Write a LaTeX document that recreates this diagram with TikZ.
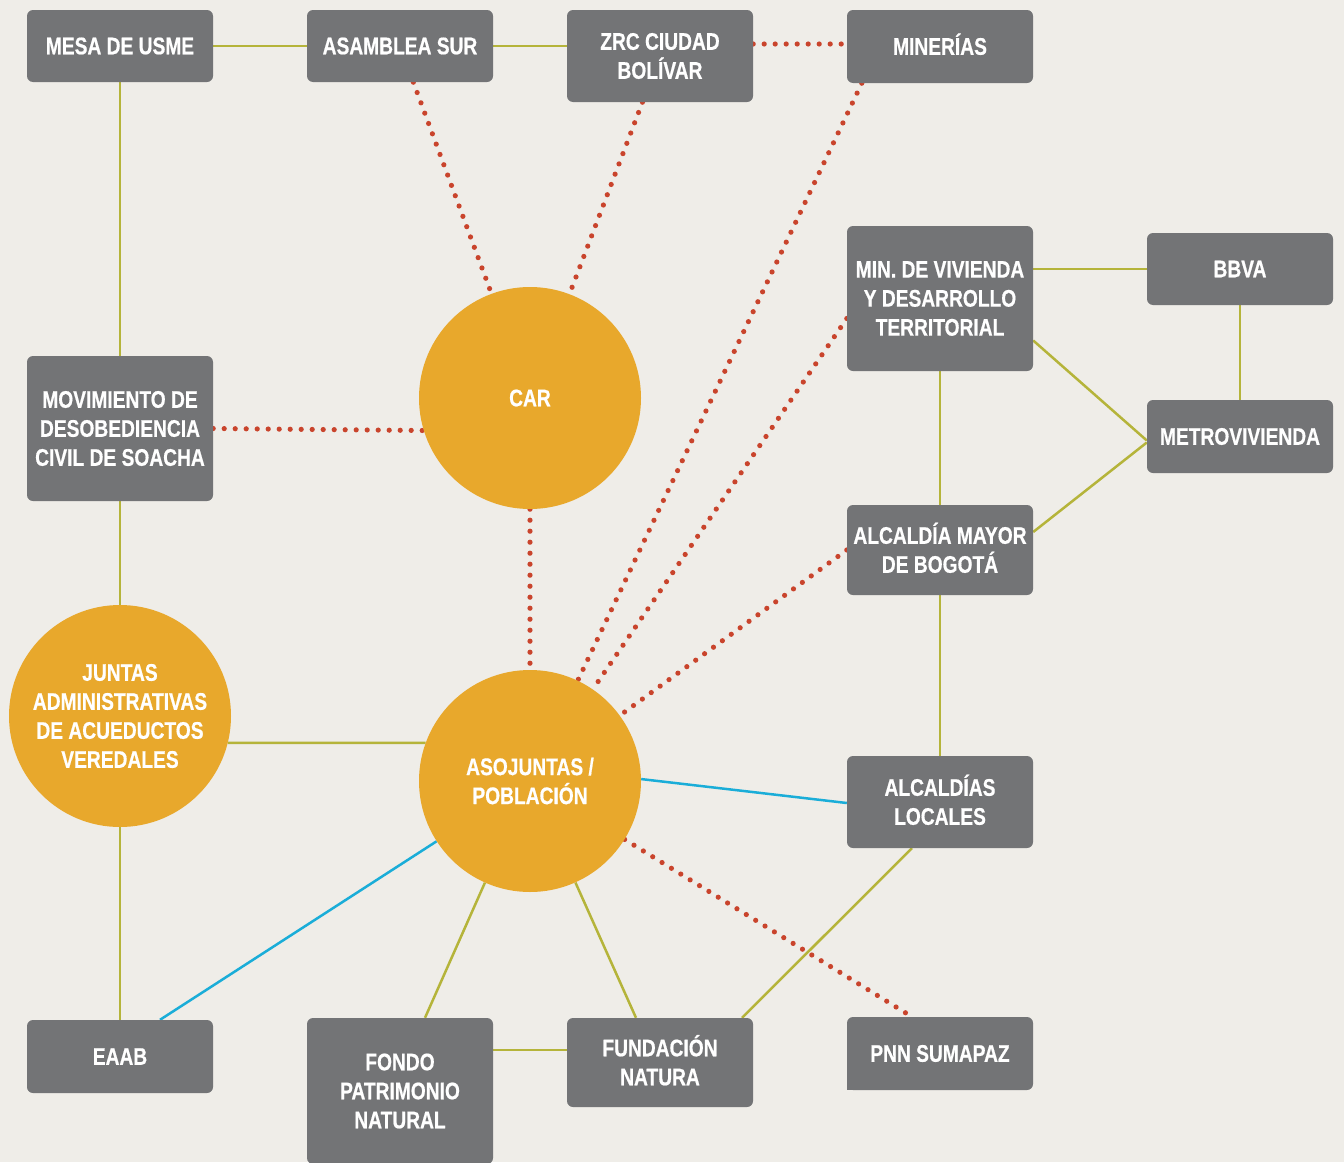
\documentclass[tikz,border=0pt]{standalone}
\usepackage{fontspec}
\setmainfont{Liberation Sans}[FakeStretch=0.8,BoldFeatures={FakeBold=0.6}]
\usetikzlibrary{calc}
\definecolor{bg}{HTML}{EFEDE8}
\definecolor{boxgray}{HTML}{737476}
\definecolor{orng}{HTML}{E8A82C}
\definecolor{olivel}{HTML}{B5B43A}
\definecolor{cyanl}{HTML}{1AADD8}
\definecolor{dotred}{HTML}{C9442C}
\pgfdeclarelayer{bgl}
\pgfdeclarelayer{lines}
\pgfsetlayers{bgl,lines,main}
\newcommand{\acc}[1]{\smash{#1}}
\begin{document}
\begin{tikzpicture}[x=1pt,y=-1pt,
 lbl/.style={text=white, align=center, font=\fontsize{24}{29}\selectfont\bfseries},
 box/.style={lbl, fill=boxgray, rounded corners=6pt, minimum width=186pt, inner sep=0pt},
 circ/.style={lbl, circle, fill=orng, minimum size=222pt, inner sep=0pt},
 oline/.style={draw=olivel, line width=2.5pt},
 bline/.style={draw=cyanl, line width=2.5pt},
 dline/.style={draw=dotred, line width=5.2pt, line cap=round, dash pattern=on 0pt off 11pt}]
\begin{pgfonlayer}{bgl}
\fill[bg] (0,0) rectangle (1344,1162);
\end{pgfonlayer}
\useasboundingbox (0,0) rectangle (1344,1162);

% boxes
\node[box, minimum height=72pt] (mesa) at (120,46) {MESA DE USME};
\node[box, minimum height=72pt] (asam) at (400,46) {ASAMBLEA SUR};
\node[box, minimum height=92pt] (zrc) at (660,56) {ZRC CIUDAD\\BOL\acc{Í}VAR};
\node[box, minimum height=73pt] (mine) at (940,46.5) {MINER\acc{Í}AS};
\node[box, minimum height=145pt] (minv) at (940,298.5) {MIN. DE VIVIENDA\\Y DESARROLLO\\TERRITORIAL};
\node[box, minimum height=72pt] (bbva) at (1240,269) {BBVA};
\node[box, minimum height=73pt] (metro) at (1240,436.5) {METROVIVIENDA};
\node[box, minimum height=145pt] (mov) at (120,428.5) {MOVIMIENTO DE\\DESOBEDIENCIA\\CIVIL DE SOACHA};
\node[box, minimum height=90pt] (amb) at (940,550) {ALCALD\acc{Í}A MAYOR\\DE BOGOT\acc{Á}};
\node[box, minimum height=92pt] (al) at (940,802) {ALCALD\acc{Í}AS\\LOCALES};
\node[box, minimum height=73pt] (eaab) at (120,1056.5) {EAAB};
\node[box, minimum height=146pt] (fondo) at (400,1091) {FONDO\\PATRIMONIO\\NATURAL};
\node[box, minimum height=89pt] (fund) at (660,1062.5) {FUNDACI\acc{Ó}N\\NATURA};
\node[box, minimum height=73pt] (pnn) at (940,1053.5) {PNN SUMAPAZ};
\fill[boxgray] (pnn.south west) rectangle ++(8,-8);

% circles
\node[circ] (car) at (530,398) {CAR};
\node[circ] (junt) at (120,716) {JUNTAS\\ADMINISTRATIVAS\\DE ACUEDUCTOS\\VEREDALES};
\node[circ] (aso) at (530,781) {ASOJUNTAS /\\POBLACI\acc{Ó}N};

\begin{pgfonlayer}{lines}
% olive links
\draw[oline] (mesa) -- (asam);
\draw[oline] (asam.east) -- ($(zrc.west)+(0,-10)$);
\draw[oline] (mesa) -- (mov);
\draw[oline] (mov) -- (junt);
\draw[oline] (junt) -- (eaab);
\draw[oline] (junt.-14.6) -- (aso.160.5);
\draw[oline] (minv.east |- bbva.west) -- (bbva.west);
\draw[oline] (bbva) -- (metro);
\draw[oline] ($(minv.east)+(0,42)$) -- ($(metro.west)+(0,4)$);
\draw[oline] ($(amb.east)+(0,-18)$) -- ($(metro.west)+(0,6)$);
\draw[oline] (minv) -- (amb);
\draw[oline] (amb) -- (al);
\draw[oline] ($(al.south)+(-28,0)$) -- ($(fund.north)+(82,0)$);
\draw[oline] ($(fondo.north)+(25,0)$) -- (aso);
\draw[oline] ($(fund.north)+(-24,0)$) -- (aso);
\draw[oline] (fondo.east |- 0,1050) -- (fund.west |- 0,1050);
% blue links
\draw[bline] (aso.1) -- ($(al.west)+(0,1)$);
\draw[bline] ($(eaab.north)+(40,0)$) -- (aso);
% dotted red links
\draw[dline] ($(zrc.east)+(0,-12)$) -- ($(mine.west)+(0,-2.5)$);
\draw[dline] (asam) -- (car);
\draw[dline] (zrc) -- (car);
\draw[dline] (mov.east) -- (car.197);
\draw[dline] (car) -- (aso);
\draw[dline] ($(mine.south west)+(15,0)$) -- (aso);
\draw[dline] ($(minv.west)+(0,20)$) -- (aso);
\draw[dline] (amb.west) -- (aso);
\draw[dline] (aso) -- ($(pnn.north)+(-28,0)$);
\end{pgfonlayer}
\end{tikzpicture}
\end{document}
